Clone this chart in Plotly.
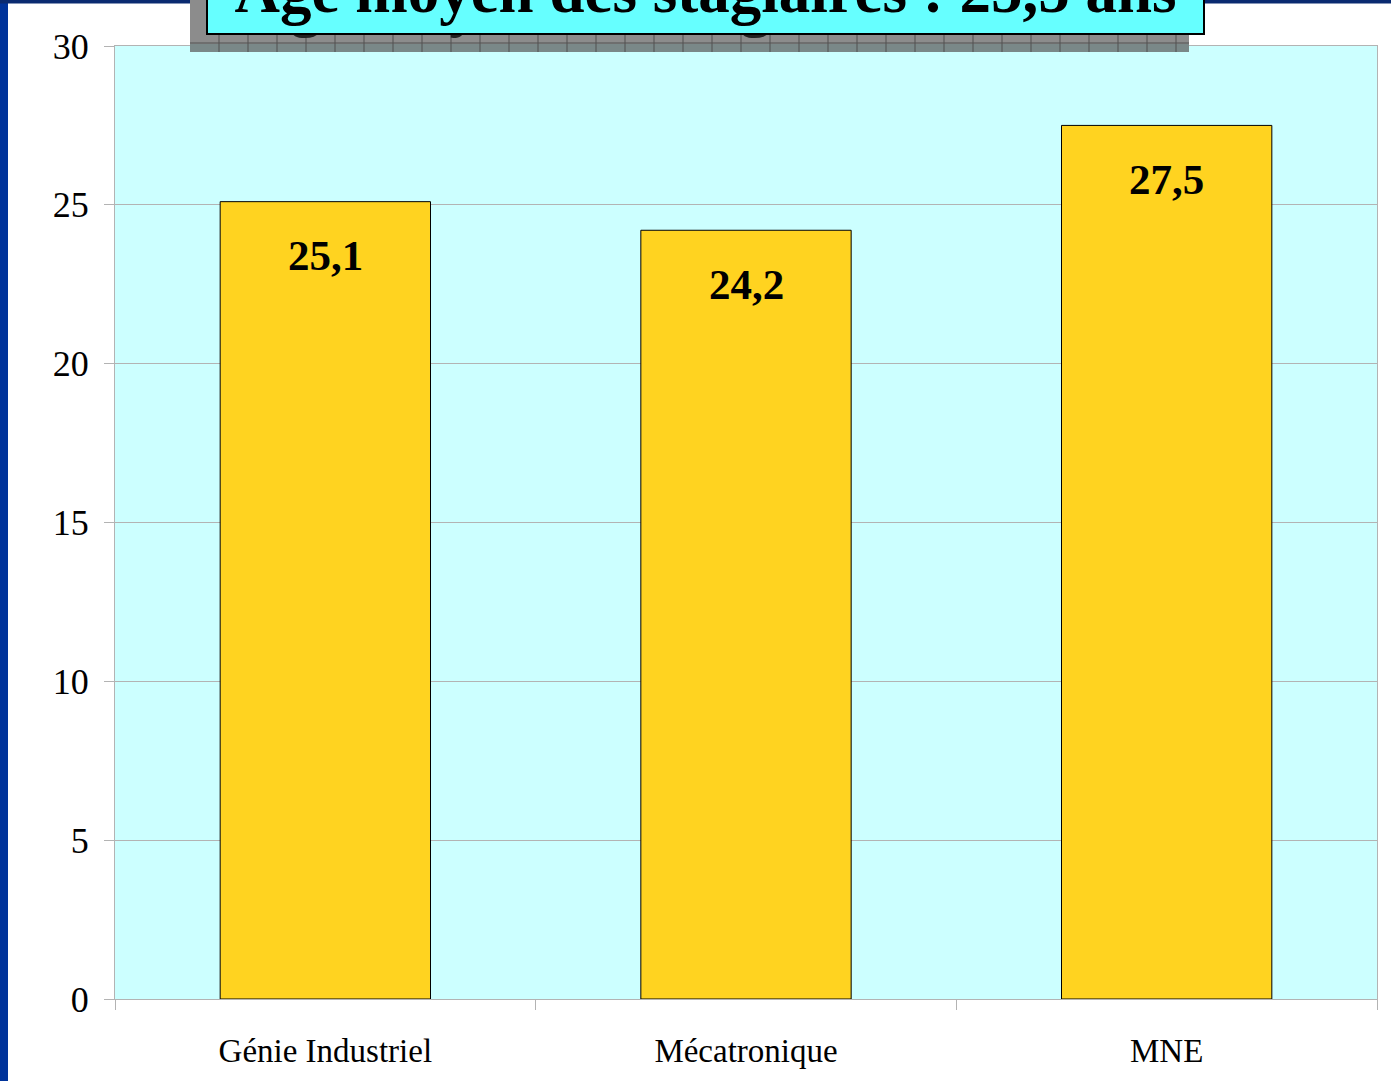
import plotly.graph_objects as go

categories = ["Génie Industriel", "Mécatronique", "MNE"]
ages = [25.1, 24.2, 27.5]
y_ticks = [0, 5, 10, 15, 20, 25, 30]
title_text = "Âge moyen des stagiaires : 25,5 ans"

W, H = 1391, 1081
ML, MR, MT, MB = 115, 14, 46, 82
PW, PH = W - ML - MR, H - MT - MB


def px(x):
    return (x - ML) / PW


def py(y):
    return 1 + (MT - y) / PH


def fmt(v):
    return f"{v:.1f}".replace(".", ",")


serif = "Liberation Serif, Times New Roman, serif"

fig = go.Figure()
fig.add_trace(go.Bar(
    x=categories, y=ages, width=0.5,
    marker=dict(color="#FFD320", line=dict(color="#000000", width=1)),
    hoverinfo="skip",
))

shapes = []
# page frame strips
shapes.append(dict(type="rect", xref="paper", yref="paper", x0=px(0), x1=px(8), y0=py(H), y1=py(0),
                   fillcolor="#00339A", line=dict(width=0), layer="below"))
shapes.append(dict(type="rect", xref="paper", yref="paper", x0=px(0), x1=px(W), y0=py(3.5), y1=py(0),
                   fillcolor="#0A2A70", line=dict(width=0), layer="below"))
# title shadow box
shapes.append(dict(type="rect", xref="paper", yref="paper", x0=px(190), x1=px(1189), y0=py(52), y1=py(-60),
                   fillcolor="#8C8C8C", line=dict(width=0), layer="above"))
shapes.append(dict(type="rect", xref="paper", yref="paper", x0=px(190), x1=px(1189), y0=py(52), y1=py(44),
                   fillcolor="#7A8888", line=dict(width=0), layer="above"))
for gx in range(219, 1189, 29):
    shapes.append(dict(type="line", xref="paper", yref="paper", x0=px(gx), x1=px(gx), y0=py(52), y1=py(-60),
                       line=dict(color="#505050", width=1), layer="above"))
shapes.append(dict(type="line", xref="paper", yref="paper", x0=px(190), x1=px(1189), y0=py(43), y1=py(43),
                   line=dict(color="#505050", width=1), layer="above"))

annotations = []
for c, v in zip(categories, ages):
    annotations.append(dict(x=c, y=v, xref="x", yref="y", text=fmt(v), showarrow=False,
                            yanchor="middle", yshift=-54,
                            font=dict(family=serif, size=43, color="#000000", weight="bold")))

PAD = 7
# text shadow of title
annotations.append(dict(xref="paper", yref="paper", x=px(705.5), y=py(35), xanchor="center", yanchor="bottom",
                        xshift=10, yshift=-12,
                        text=title_text, showarrow=False, width=995 - 2 * PAD, height=110, valign="bottom",
                        borderwidth=2, bordercolor="rgba(0,0,0,0)", borderpad=PAD,
                        font=dict(family=serif, size=63, color="#222222", weight="bold")))
# title box
annotations.append(dict(xref="paper", yref="paper", x=px(705.5), y=py(35), xanchor="center", yanchor="bottom",
                        text=title_text, showarrow=False, width=995 - 2 * PAD, height=110, valign="bottom",
                        bgcolor="#66FFFF", borderwidth=2, bordercolor="#000000", borderpad=PAD,
                        font=dict(family=serif, size=63, color="#000000", weight="bold")))

fig.update_layout(
    width=W, height=H,
    margin=dict(l=ML, r=MR, t=MT, b=MB, autoexpand=False),
    paper_bgcolor="#FFFFFF", plot_bgcolor="#CCFFFF",
    showlegend=False,
    shapes=shapes, annotations=annotations,
    bargap=0.5,
)
fig.update_xaxes(
    showline=True, linecolor="#B3B3B3", linewidth=1, mirror=True,
    ticks="outside", tickson="boundaries", ticklen=10, tickcolor="#B3B3B3",
    showgrid=False, ticklabelstandoff=22,
    tickfont=dict(family=serif, size=33, color="#000000"),
)
fig.update_yaxes(
    range=[0, 30], tickvals=y_ticks, ticktext=[str(t) for t in y_ticks],
    showline=True, linecolor="#B3B3B3", linewidth=1, mirror=True,
    ticks="outside", ticklen=10, tickcolor="#B3B3B3",
    showgrid=True, gridcolor="#B3B3B3", gridwidth=1, zeroline=False,
    ticklabelstandoff=8,
    tickfont=dict(family=serif, size=36, color="#000000"),
)

fig.write_html(
    "out.html",
    config={"displayModeBar": False},
    post_script="document.body.style.margin='0';document.body.style.overflow='hidden';",
)
